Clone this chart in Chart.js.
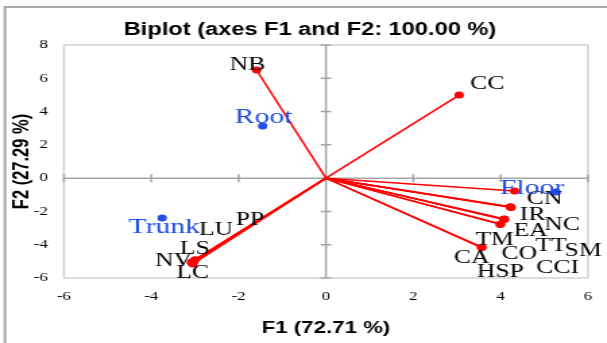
<!DOCTYPE html>
<html><head><meta charset="utf-8">
<script src="https://cdn.jsdelivr.net/npm/chart.js@4/dist/chart.umd.min.js"></script>
<style>html,body{margin:0;padding:0;background:#fff;overflow:hidden}
#wrap{width:450px;height:343px;transform:scale(1.348889,1);transform-origin:0 0}
canvas{display:block}</style></head>
<body><div id="wrap"><canvas id="c" width="450" height="343"></canvas></div>
<script>
// ---- data ----
const variables = ['NB','CC','CN','IR','NC','SM','EA','TT','CCI','TM','CO','CA','HSP','PP','LU','LS','NV','LC'];
const varF1 = [-1.59, 3.05, 4.32, 4.23, 4.22, 4.24, 4.09, 4.08, 4.07, 4.00, 3.99, 3.57, 3.56, -3.02, -3.00, -3.05, -3.08, -3.05];
const varF2 = [ 6.50, 4.99, -0.77, -1.74, -1.72, -1.76, -2.46, -2.48, -2.47, -2.76, -2.78, -4.15, -4.17, -4.98, -4.90, -5.10, -5.05, -5.16];
const observations = ['Root','Floor','Trunk'];
const obsF1 = [-1.45, 5.27, -3.75];
const obsF2 = [ 3.13, -0.83, -2.40];
const xTicks = [-6,-4,-2,0,2,4,6];
const yTicks = [-6,-4,-2,0,2,4,6,8];
const chartTitle = 'Biplot (axes F1 and F2: 100.00 %)';
const xTitle = 'F1 (72.71 %)';
const yTitle = 'F2 (27.29 %)';

// label placement offsets (px, relative to the point)
const varLabelOffset = [[-6.7,-5],[20.8,-11],[22.2,8],[16.3,8],[38.5,18],[53.4,44],[19.3,12],[34.8,27],[40,49],[-4.4,16],[14.1,30],[-7.4,11],[14.1,24],[41.5,-41],[15.6,-30],[1.5,-14],[-13.3,-1],[0,9]];
const obsLabelOffset = [[0.7,-9],[-17.8,-4],[1.5,9]];

const RED = '#ff0000', BLUE = '#1f4fe6';
const SERIF = '"Liberation Serif","Times New Roman",serif';
const SANS = '"Liberation Sans",Arial,sans-serif';

const datasets = variables.map((name,i)=>({
  label:name,
  data:[{x:0,y:0},{x:varF1[i],y:varF2[i]}],
  showLine:true, borderColor:RED, borderWidth:1.5,
  pointRadius:[0,3.5], pointHoverRadius:[0,3.5],
  pointBackgroundColor:RED, pointBorderColor:RED, pointBorderWidth:0
}));
datasets.push({
  label:'Observations',
  data:observations.map((n,i)=>({x:obsF1[i],y:obsF2[i]})),
  showLine:false, pointRadius:3.5, pointHoverRadius:3.5,
  pointBackgroundColor:BLUE, pointBorderColor:BLUE, pointBorderWidth:0
});

const biplotDecor = {
  id:'biplotDecor',
  beforeDraw(chart){
    const c=chart.ctx; c.save();
    c.fillStyle='#fff'; c.fillRect(0,0,chart.width,chart.height);
    c.strokeStyle='#a6a6a6'; c.lineWidth=2;
    c.beginPath(); c.moveTo(3.7,chart.height); c.lineTo(3.7,7); c.lineTo(chart.width,7); c.stroke();
    c.restore();
  },
  beforeDatasetsDraw(chart){
    const {ctx:c, chartArea:a, scales:{x,y}} = chart; c.save();
    c.strokeStyle='#d2d2d2'; c.lineWidth=1.5;
    c.strokeRect(a.left,a.top,a.right-a.left,a.bottom-a.top);
    const x0=x.getPixelForValue(0), y0=y.getPixelForValue(0);
    c.strokeStyle='#a6a6a6'; c.lineWidth=1.5; c.beginPath();
    c.moveTo(x0,a.top); c.lineTo(x0,a.bottom); c.moveTo(a.left,y0); c.lineTo(a.right,y0);
    yTicks.forEach(v=>{const p=y.getPixelForValue(v); c.moveTo(x0-4,p); c.lineTo(x0+4,p);});
    xTicks.forEach(v=>{const p=x.getPixelForValue(v); c.moveTo(p,y0-4); c.lineTo(p,y0+4);});
    c.stroke(); c.restore();
  },
  afterDatasetsDraw(chart){
    const {ctx:c, scales:{x,y}} = chart; c.save();
    c.textAlign='center'; c.textBaseline='middle';
    c.fillStyle='#000'; c.font='19px '+SERIF;
    variables.forEach((n,i)=>{
      c.fillText(n, x.getPixelForValue(varF1[i])+varLabelOffset[i][0], y.getPixelForValue(varF2[i])+varLabelOffset[i][1]);
    });
    c.fillStyle=BLUE; c.font='22px '+SERIF;
    observations.forEach((n,i)=>{
      c.fillText(n, x.getPixelForValue(obsF1[i])+obsLabelOffset[i][0], y.getPixelForValue(obsF2[i])+obsLabelOffset[i][1]);
    });
    c.restore();
  },
  afterDraw(chart){
    const c=chart.ctx; c.save();
    c.fillStyle='#000'; c.font='bold 17.5px '+SANS; c.textAlign='center'; c.textBaseline='middle';
    c.fillText(chartTitle, 229.8, 30);
    c.restore();
  }
};

new Chart(document.getElementById('c'), {
  type:'scatter',
  data:{datasets},
  options:{
    responsive:false, animation:false, events:[],
    layout:{padding:{left:0,right:11.2,top:45,bottom:0}},
    plugins:{legend:{display:false}, tooltip:{enabled:false}, title:{display:false}},
    scales:{
      x:{type:'linear', min:xTicks[0], max:xTicks[xTicks.length-1],
        afterBuildTicks:s=>{s.ticks=xTicks.map(v=>({value:v}));},
        afterFit:s=>{s.height=65;},
        grid:{display:false, drawTicks:false}, border:{display:false},
        ticks:{color:'#000', font:{family:SERIF,size:12.5}, padding:11},
        title:{display:true, text:xTitle, color:'#000', font:{family:SANS,size:16.5,weight:'bold'}, padding:{top:0,bottom:5}}
      },
      y:{type:'linear', min:yTicks[0], max:yTicks[yTicks.length-1],
        afterBuildTicks:s=>{s.ticks=yTicks.map(v=>({value:v}));},
        afterFit:s=>{s.width=47.4;},
        grid:{display:false, drawTicks:false}, border:{display:false},
        ticks:{color:'#000', font:{family:SERIF,size:12.5}, padding:12},
        title:{display:true, text:yTitle, color:'#000', font:{family:SANS,size:16.5,weight:'bold'}, padding:{top:6.4,bottom:0}}
      }
    }
  },
  plugins:[biplotDecor]
});
</script></body></html>
